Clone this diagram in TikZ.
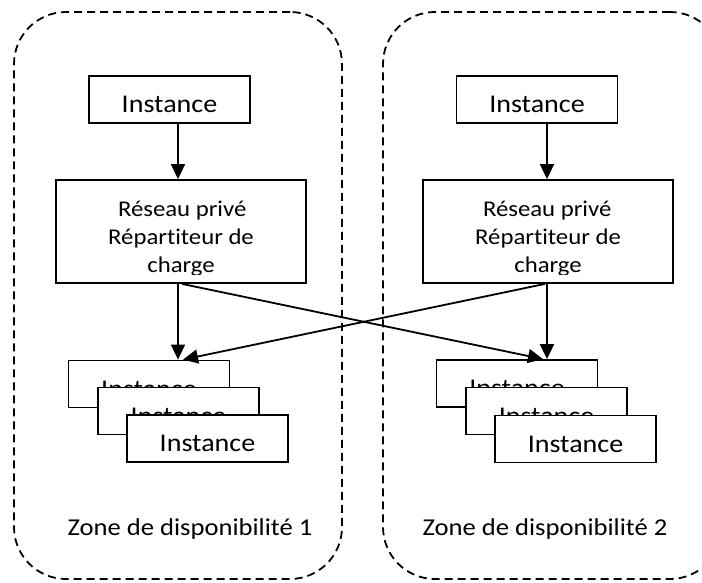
\documentclass[tikz,border=0pt]{standalone}
\usepackage{fontspec}
\setmainfont{Carlito}[FakeStretch=1.1, Ligatures=NoCommon]
\usetikzlibrary{arrows.meta,calc}

\tikzset{
  x=1pt, y=-1pt,
  zonebox/.style={draw, dashed, dash pattern=on 8pt off 5pt, line width=1.8pt,
    rounded corners=52pt, minimum width=#1, minimum height=567pt, inner sep=0pt},
  instbox/.style={draw, fill=white, line width=1.8pt, minimum width=161pt,
    minimum height=47pt, inner sep=0pt, font=\fontsize{25.5}{28}\selectfont},
  lbbox/.style={draw, line width=1.8pt, minimum width=250pt, minimum height=103pt,
    inner sep=0pt},
  lbtext/.style={align=center, inner sep=0pt, font=\fontsize{22.5}{28}\selectfont},
  zonelabel/.style={inner sep=0pt, font=\fontsize{24.2}{28}\selectfont},
  arr/.style={line width=1.8pt, -{Triangle[length=15pt,width=14pt]}},
}

% instance label, set 5pt below the box centre
\newcommand{\inst}{\raisebox{-5pt}[0.644em][0pt]{Instance}}

\begin{document}
\begin{tikzpicture}
\useasboundingbox (0,0) rectangle (702,583);
\clip (0,0) rectangle (702,583);

% availability zones
\node[zonebox=328pt] (z1) at (178,295.5) {};
\node[zonebox=339pt] (z2) at (552.5,295.5) {};
\node[zonelabel] (zl1) at (190,529) {Zone de disponibilité 1};
\node[zonelabel] (zl2) at (545,529) {Zone de disponibilité 2};

% front instances
\node[instbox] (i1) at (169.5,99.5) {\inst};
\node[instbox] (i2) at (537,99.5) {\inst};

% private network / load balancers
\node[lbbox] (lb1) at (181,231.5) {};
\node[lbbox] (lb2) at (548,231.5) {};
\begin{scope}
  \clip (lb1.north west) rectangle ([yshift=9.5pt]lb1.south east);
  \node[lbtext] (t1) at (181,238.5) {\makebox[126pt][l]{Réseau privé}\\Répartiteur de\\charge};
\end{scope}
\begin{scope}
  \clip (lb2.north west) rectangle ([yshift=9.5pt]lb2.south east);
  \node[lbtext] (t2) at (548,238.5) {\makebox[130pt][l]{Réseau privé}\\Répartiteur de\\charge};
\end{scope}

% back-end instance stacks
\node[instbox] (a1) at (149,384) {\inst};
\node[instbox] (a2) at (178.5,411) {\inst};
\node[instbox] (a3) at (207.5,438.5) {\inst};
\node[instbox] (b1) at (517,383.5) {\inst};
\node[instbox] (b2) at (546.5,411) {\inst};
\node[instbox] (b3) at (575.5,439) {\inst};

% connectors
\draw[arr] ([xshift=-3pt]lb1.north |- i1.south) -- ([xshift=-3pt]lb1.north);
\draw[arr] ([xshift=-1pt]lb2.north |- i2.south) -- ([xshift=-1pt]lb2.north);
\draw[arr] ([xshift=-3pt]lb1.south) -- ([xshift=-3pt]lb1.south |- a1.north);
\draw[arr] ([xshift=-1pt]lb2.south) -- ([xshift=-1pt]lb2.south |- b1.north);
\draw[arr] ([xshift=1pt]lb1.south) -- ([xshift=-5pt]lb2.south |- b1.north);
\draw[arr] ([xshift=-3pt]lb2.south) -- ([xshift=2pt]lb1.south |- a1.north);
\end{tikzpicture}
\end{document}
